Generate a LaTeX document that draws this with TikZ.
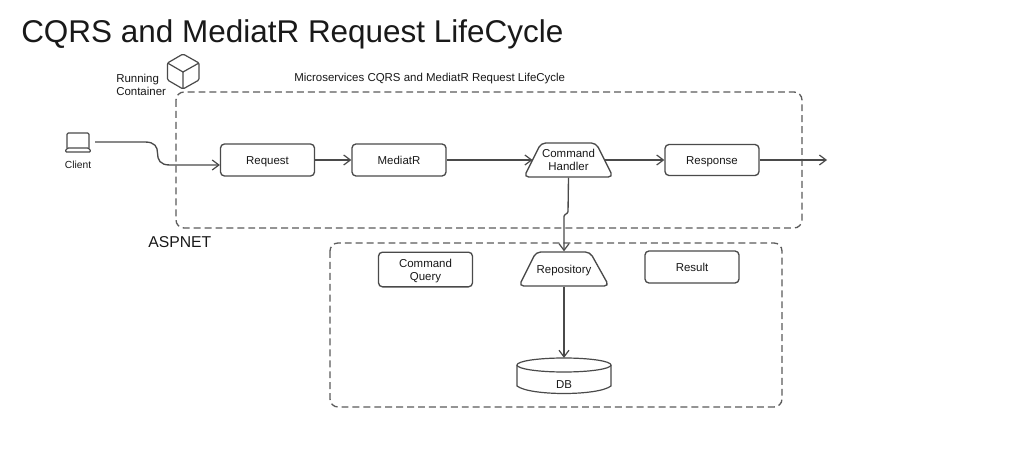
\documentclass[tikz,border=0pt]{standalone}
\usepackage{fontspec}
\setmainfont{Liberation Sans}
\usetikzlibrary{arrows.meta}
\definecolor{ink}{HTML}{4A4A4A}
\newcommand{\lowered}[1]{\raisebox{-1.5pt}[\height][\depth]{#1}}
\tikzset{
  base/.style={line width=1pt,rounded corners=3pt,inner sep=0pt,align=center,font=\fontsize{8.6}{9.8}\selectfont,text=black!90},
  procbox/.style={base,draw=ink,fill=white,rectangle,minimum width=70.5pt,minimum height=24pt},
  trap/.style={base,rectangle,minimum width=53pt,minimum height=25.5pt},
  trapline/.style={draw=ink,line width=1pt,fill=white,rounded corners=3.5pt},
  group/.style={draw=ink!90,line width=1pt,dash pattern=on 5.2pt off 3pt,rounded corners=6pt},
  flow/.style={draw=ink,line width=1pt,-{Straight Barb[length=5pt,width=7.5pt,line width=0.9pt]}},
  lab/.style={inner sep=0pt,font=\fontsize{8.6}{9.3}\selectfont,text=black!90},
  icon/.style={draw=ink,line width=0.9pt,line join=round}
}
\begin{document}
\begin{tikzpicture}[x=0.75pt,y=-0.75pt]
\useasboundingbox (0,0) rectangle (1018,460);
\fill[white] (0,0) rectangle (1018,460);
\node[inner sep=0pt,anchor=west,font=\fontsize{23.6}{26}\selectfont,text=black!90] (title) at (21,34) {CQRS and MediatR Request LifeCycle};
\draw[group] (176,92) rectangle (802,228);
\draw[group] (330,243) rectangle (782,407);
\node[lab,anchor=west] (sub) at (294,79) {Microservices CQRS and MediatR Request LifeCycle};
\node[lab,anchor=west,align=left] (run) at (116,85) {Running\\Container};
\node[inner sep=0pt,anchor=west,font=\fontsize{11.8}{13}\selectfont,text=black!90] (asp) at (148,242) {ASPNET};
% cube icon
\draw[icon,rounded corners=1pt] (183,54) -- (199,63) -- (199,80) -- (183,89) -- (167.5,80) -- (167.5,63) -- cycle;
\draw[icon] (167.5,63) -- (183,72) -- (199,63) (183,72) -- (183,89);
% laptop icon
\draw[icon,rounded corners=1pt] (67,148) -- (67,133) -- (89,133) -- (89,148);
\draw[icon,rounded corners=1pt] (67,148) -- (89,148) -- (91,152) -- (65,152) -- cycle;
\node[inner sep=0pt,font=\fontsize{7.7}{9}\selectfont,text=black!90] (client) at (78,165) {Client};
\coordinate (cstart) at (95,142);
\node[procbox] (req) at (267.5,160) {\lowered{Request}};
\node[procbox] (med) at (399,160) {MediatR};
\draw[trapline] (524,177) -- (541,143) -- (596,143) -- (613,177) -- cycle;
\node[trap] (cmd) at (568.5,160) {Command\\Handler};
\node[procbox,minimum height=23.25pt] (resp) at (712,160) {\lowered{Response}};
\coordinate (out) at (827,160);
\node[procbox,minimum height=26pt] (cq) at (425.5,269.5) {\lowered{\begin{tabular}{@{}c@{}}Command\\Query\end{tabular}}};
\draw[trapline] (519,286) -- (536,252) -- (590,252) -- (609,286) -- cycle;
\node[trap] (repo) at (564,269) {\lowered{Repository}};
\node[procbox] (res) at (692,267) {Result};
\node[inner sep=0pt,minimum width=70.5pt,minimum height=26pt] (db) at (564,375.5) {};
\draw[draw=ink,line width=0.9pt,fill=white] (517,365) -- (517,386) .. controls (530,396) and (598,396) .. (611,386) -- (611,365);
\draw[draw=ink,line width=0.9pt,fill=white] (564,365) ellipse [x radius=47,y radius=7];
\node[lab] (dbl) at (564,385) {DB};
\draw[flow] (cstart) -- (145,142) .. controls (155,142) and (157.5,147) .. (157.5,153) .. controls (157.5,160) and (160,165) .. (170,165) -- ([yshift=-3.75pt]req.west);
\draw[flow] (req.east) -- (med.west);
\draw[flow] (med.east) -- (cmd.west);
\draw[flow] (cmd.east) -- (resp.west);
\draw[flow] (resp.east) -- (out);
\draw[flow,rounded corners=1pt] (cmd.south) -- (568,213) -- (564,215) -- (repo.north);
\draw[flow] (repo.south) -- (db.north);
\end{tikzpicture}
\end{document}
